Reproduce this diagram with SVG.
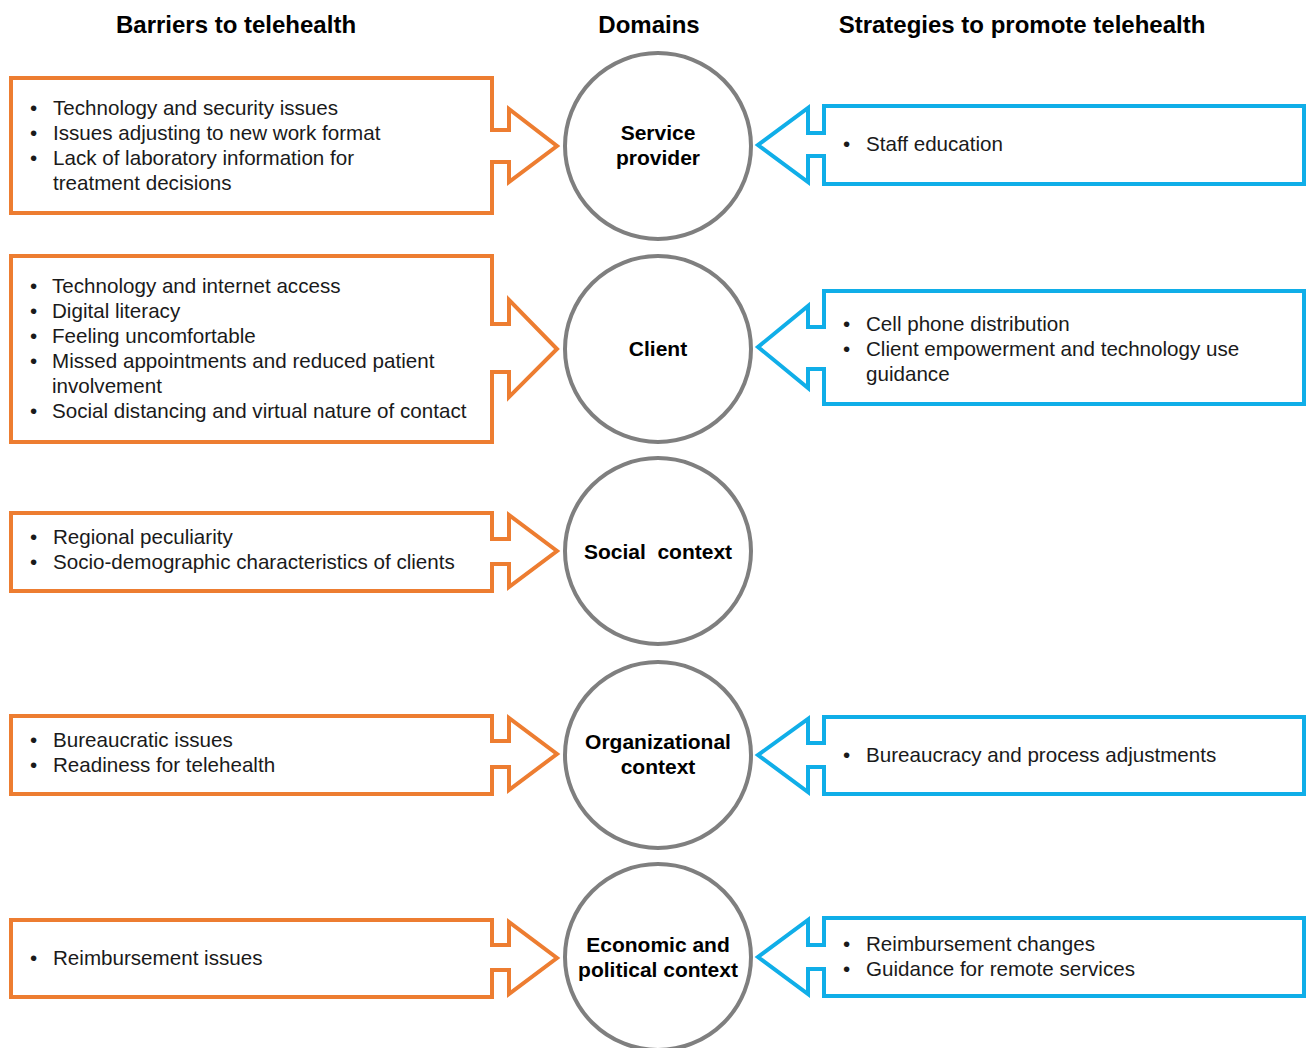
<svg xmlns="http://www.w3.org/2000/svg" width="1306" height="1048" viewBox="0 0 1306 1048">
<style>
.bg{fill:#ffffff}
.hdr{font-family:"Liberation Sans",Arial,sans-serif;font-size:24px;font-weight:bold;fill:#000;text-anchor:middle}
.dom{font-family:"Liberation Sans",Arial,sans-serif;font-size:21px;font-weight:bold;fill:#000;text-anchor:middle}
.t{font-family:"Liberation Sans",Arial,sans-serif;font-size:20.6px;fill:#1a1a1a}
.or{fill:#ffffff;stroke:#ED7D31;stroke-width:4;stroke-linejoin:miter}
.bl{fill:#ffffff;stroke:#10AEE8;stroke-width:4;stroke-linejoin:miter}
.cir{fill:#ffffff;stroke:#7F7F7F;stroke-width:4}
</style>
<rect class="bg" x="0" y="0" width="1306" height="1048"/>

<g id="headers">
<text class="hdr" x="236" y="33">Barriers to telehealth</text>
<text class="hdr" x="649" y="33">Domains</text>
<text class="hdr" x="1022" y="33">Strategies to promote telehealth</text>
</g>

<!-- Domain circles -->
<g id="domain-service-provider">
<circle class="cir" cx="658" cy="146" r="93"/>
<text class="dom" x="658" y="140">Service</text>
<text class="dom" x="658" y="165">provider</text>
</g>
<g id="domain-client">
<circle class="cir" cx="658" cy="349" r="93"/>
<text class="dom" x="658" y="356">Client</text>
</g>
<g id="domain-social">
<circle class="cir" cx="658" cy="551" r="93"/>
<text class="dom" x="658" y="559" xml:space="preserve">Social  context</text>
</g>
<g id="domain-organizational">
<circle class="cir" cx="658" cy="755" r="93"/>
<text class="dom" x="658" y="749">Organizational</text>
<text class="dom" x="658" y="774">context</text>
</g>
<g id="domain-economic">
<circle class="cir" cx="658" cy="957" r="93"/>
<text class="dom" x="658" y="952">Economic and</text>
<text class="dom" x="658" y="977">political context</text>
</g>

<g id="connectors">
<!-- Barrier block arrows -->
<g id="barrier-service-provider">
<path class="or" d="M11,78 H492 V130 H509 V109 L557,146 L509,182 V162 H492 V213 H11 Z"/>
<text class="t" x="30" y="115">•</text><text class="t" x="53" y="115">Technology and security issues</text>
<text class="t" x="30" y="140">•</text><text class="t" x="53" y="140">Issues adjusting to new work format</text>
<text class="t" x="30" y="165">•</text><text class="t" x="53" y="165">Lack of laboratory information for</text>
<text class="t" x="53" y="190">treatment decisions</text>
</g>
<g id="barrier-client">
<path class="or" d="M11,256 H492 V324 H509 V300 L557,349 L509,397 V372 H492 V442 H11 Z"/>
<text class="t" x="30" y="293">•</text><text class="t" x="52" y="293">Technology and internet access</text>
<text class="t" x="30" y="318">•</text><text class="t" x="52" y="318">Digital literacy</text>
<text class="t" x="30" y="343">•</text><text class="t" x="52" y="343">Feeling uncomfortable</text>
<text class="t" x="30" y="368">•</text><text class="t" x="52" y="368">Missed appointments and reduced patient</text>
<text class="t" x="52" y="393">involvement</text>
<text class="t" x="30" y="418">•</text><text class="t" x="52" y="418">Social distancing and virtual nature of contact</text>
</g>
<g id="barrier-social">
<path class="or" d="M11,513 H492 V539 H509 V515 L557,551 L509,587 V564 H492 V591 H11 Z"/>
<text class="t" x="30" y="544">•</text><text class="t" x="53" y="544">Regional peculiarity</text>
<text class="t" x="30" y="569">•</text><text class="t" x="53" y="569">Socio-demographic characteristics of clients</text>
</g>
<g id="barrier-organizational">
<path class="or" d="M11,716 H492 V741 H509 V718 L557,754 L509,790 V767 H492 V794 H11 Z"/>
<text class="t" x="30" y="747">•</text><text class="t" x="53" y="747">Bureaucratic issues</text>
<text class="t" x="30" y="772">•</text><text class="t" x="53" y="772">Readiness for telehealth</text>
</g>
<g id="barrier-economic">
<path class="or" d="M11,920 H492 V945 H509 V922 L557,958 L509,994 V970 H492 V997 H11 Z"/>
<text class="t" x="30" y="965">•</text><text class="t" x="53" y="965">Reimbursement issues</text>
</g>

<!-- Strategy block arrows -->
<g id="strategy-service-provider">
<path class="bl" d="M1304,106 H824 V133 H808 V108 L758,145 L808,182 V156 H824 V184 H1304 Z"/>
<text class="t" x="843" y="151">•</text><text class="t" x="866" y="151">Staff education</text>
</g>
<g id="strategy-client">
<path class="bl" d="M1304,291 H824 V327 H808 V306 L758,347 L808,388 V369 H824 V404 H1304 Z"/>
<text class="t" x="843" y="331">•</text><text class="t" x="866" y="331">Cell phone distribution</text>
<text class="t" x="843" y="356">•</text><text class="t" x="866" y="356">Client empowerment and technology use</text>
<text class="t" x="866" y="381">guidance</text>
</g>
<g id="strategy-organizational">
<path class="bl" d="M1304,717 H824 V743 H808 V719 L758,755 L808,792 V767 H824 V794 H1304 Z"/>
<text class="t" x="843" y="762">•</text><text class="t" x="866" y="762">Bureaucracy and process adjustments</text>
</g>
<g id="strategy-economic">
<path class="bl" d="M1304,918 H824 V945 H808 V920 L758,957 L808,994 V969 H824 V996 H1304 Z"/>
<text class="t" x="843" y="951">•</text><text class="t" x="866" y="951">Reimbursement changes</text>
<text class="t" x="843" y="976">•</text><text class="t" x="866" y="976">Guidance for remote services</text>
</g>
</g>
</svg>
